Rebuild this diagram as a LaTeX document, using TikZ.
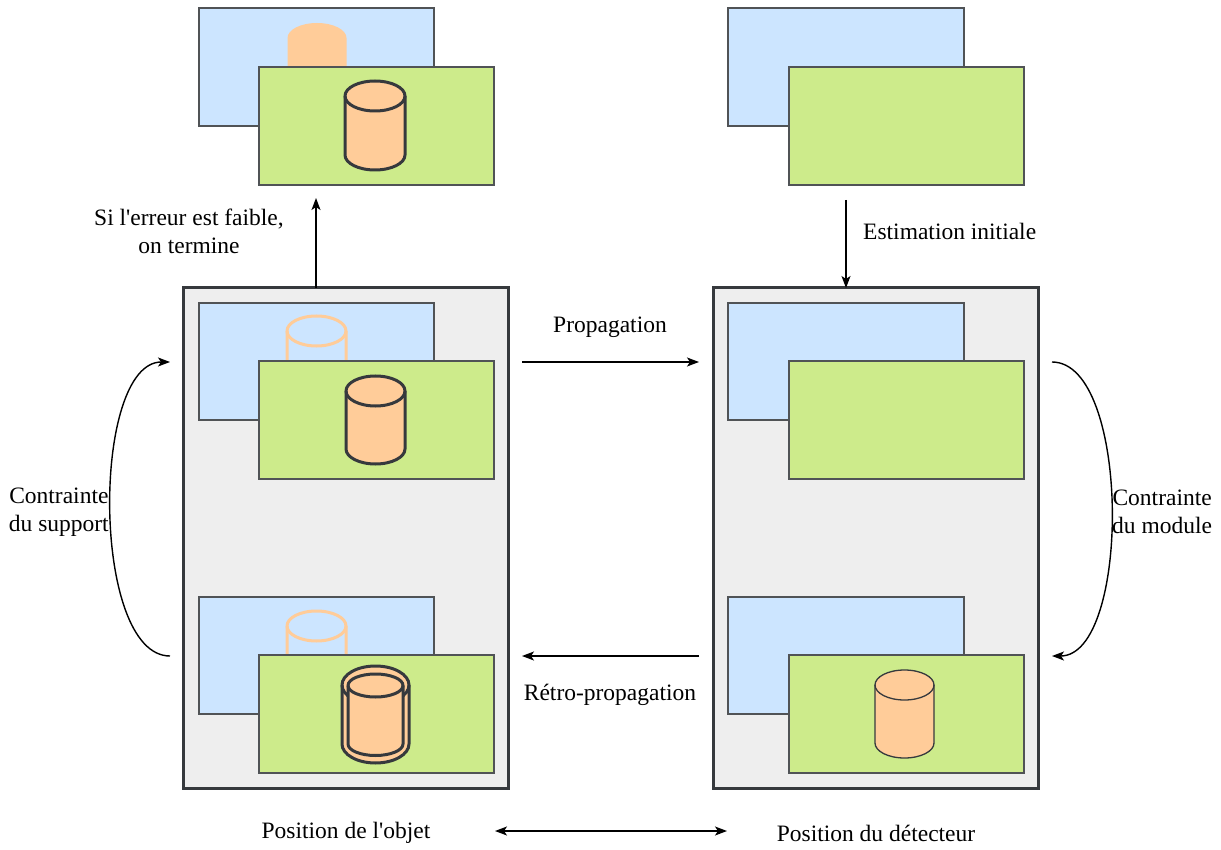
\documentclass[tikz,border=0pt]{standalone}
\usepackage{fontspec}
\setmainfont{Liberation Serif}[Ligatures=NoCommon]
\usetikzlibrary{arrows.meta}
\definecolor{bluef}{HTML}{CCE5FF}
\definecolor{greenf}{HTML}{CDEB8B}
\definecolor{orangef}{HTML}{FFCC99}
\definecolor{grayf}{HTML}{EEEEEE}
\definecolor{darkc}{HTML}{36393D}
\definecolor{rectc}{HTML}{505356}
% cylinder: #1 style, #2 cx, #3 top, #4 bottom, #5 rx, #6 ry
\newcommand\mycyl[6]{%
  \path[#1] (#2-#5,#3+#6) -- (#2-#5,#4-#6)
    arc[start angle=180,end angle=0,x radius=#5,y radius=#6]
    -- (#2+#5,#3+#6)
    arc[start angle=0,end angle=-180,x radius=#5,y radius=#6] -- cycle;
  \path[#1,fill=none] (#2-#5,#3+#6)
    arc[start angle=180,end angle=0,x radius=#5,y radius=#6];
}
\begin{document}
\begin{tikzpicture}[x=1pt,y=1pt,yscale=-1,
  panel/.style={draw=rectc,line width=1.4pt,anchor=north west,inner sep=0pt,outer sep=0pt},
  bluebox/.style={panel,fill=bluef,minimum width=235pt,minimum height=118pt},
  greenbox/.style={panel,fill=greenf,minimum width=235pt,minimum height=118pt},
  bigbox/.style={draw=darkc,fill=grayf,line width=3pt,anchor=north west,inner sep=0pt,outer sep=0pt,minimum width=325pt,minimum height=500pt},
  lbl/.style={font=\fontsize{23.5}{28}\selectfont,inner sep=0pt,align=center},
  conn/.style={line width=1.4pt,-{Stealth[length=12pt,width=9pt,inset=3pt]}},
  cylsolid/.style={draw=darkc,fill=orangef,line width=3pt},
  cylthin/.style={draw=darkc,fill=orangef,line width=1.3pt},
  cylghost/.style={draw=orangef,fill=none,line width=3pt},
  cylhidden/.style={fill=orangef}
]
\useasboundingbox (0,0) rectangle (1221,850);

% ---------- top left result ----------
\node[bluebox] (tlb) at (199,8) {};
\mycyl{cylhidden}{317}{23}{112}{29.5}{15}
\node[greenbox] (tlg) at (259,67) {};
\mycyl{cylsolid}{375}{81}{170}{30}{15}

% ---------- top right initial ----------
\node[bluebox,minimum width=236pt] (trb) at (728,8) {};
\node[greenbox] (trg) at (789,67) {};

% ---------- big boxes ----------
\node[bigbox] (L) at (183,288) {};
\node[bigbox] (R) at (713,288) {};

% left box, top
\node[bluebox,minimum height=117pt] (ltb) at (199,303) {};
\mycyl{cylghost}{316.5}{316}{404}{29.5}{15}
\node[greenbox] (ltg) at (259,361) {};
\mycyl{cylsolid}{375.5}{376}{464}{29.5}{15}

% left box, bottom
\node[bluebox,minimum height=117pt] (lbb) at (199,597) {};
\mycyl{cylghost}{316.5}{611}{699}{29.5}{15}
\node[greenbox] (lbg) at (259,655) {};
\mycyl{cylsolid}{375.5}{666}{763}{33.5}{19}
\mycyl{cylsolid}{375.5}{674}{755.5}{27.5}{11.5}

% right box, top
\node[bluebox,minimum width=236pt,minimum height=117pt] (rtb) at (728,303) {};
\node[greenbox] (rtg) at (789,361) {};

% right box, bottom
\node[bluebox,minimum width=236pt,minimum height=117pt] (rbb) at (728,597) {};
\node[greenbox] (rbg) at (789,655) {};
\mycyl{cylthin}{904.5}{670}{758}{29.5}{15}

% ---------- connectors ----------
\coordinate (upS) at (316,288);
\coordinate (upE) at (316,198);
\draw[conn] (upS) -- (upE);
\node[lbl] (tEnd) at (189,231) {Si l\textquotesingle erreur est faible,\\on termine};

\coordinate (dnS) at (846,200);
\coordinate (dnE) at (846,288);
\draw[conn] (dnS) -- (dnE);
\node[lbl,anchor=west] (tEst) at (863,231) {Estimation initiale};

\coordinate (prS) at (522,362);
\coordinate (prE) at (699,362);
\draw[conn] (prS) -- (prE);
\node[lbl] (tProp) at (610,327) {Propagation};

\coordinate (rpS) at (699,656);
\coordinate (rpE) at (522,656);
\draw[conn] (rpS) -- (rpE);
\node[lbl] (tRetro) at (610,695) {Rétro-propagation};

\coordinate (csS) at (170,656);
\coordinate (csE) at (170,362);
\draw[conn] (csS) .. controls (91,656) and (91,362) .. (csE);
\node[lbl,anchor=east] (tSup) at (109,512) {Contrainte\\du support};

\coordinate (cmS) at (1052,362);
\coordinate (cmE) at (1052,656);
\draw[conn] (cmS) .. controls (1131,362) and (1131,656) .. (cmE);
\node[lbl,anchor=west] (tMod) at (1112,512) {Contrainte\\du module};

\node[lbl] (pObj) at (346,833) {Position de l\textquotesingle objet};
\node[lbl] (pDet) at (876,833) {Position du détecteur};
\coordinate (bA) at (495,831);
\coordinate (bB) at (727,831);
\draw[line width=1.4pt,{Stealth[length=12pt,width=9pt,inset=3pt]}-{Stealth[length=12pt,width=9pt,inset=3pt]}] (bA) -- (bB);
\end{tikzpicture}
\end{document}
